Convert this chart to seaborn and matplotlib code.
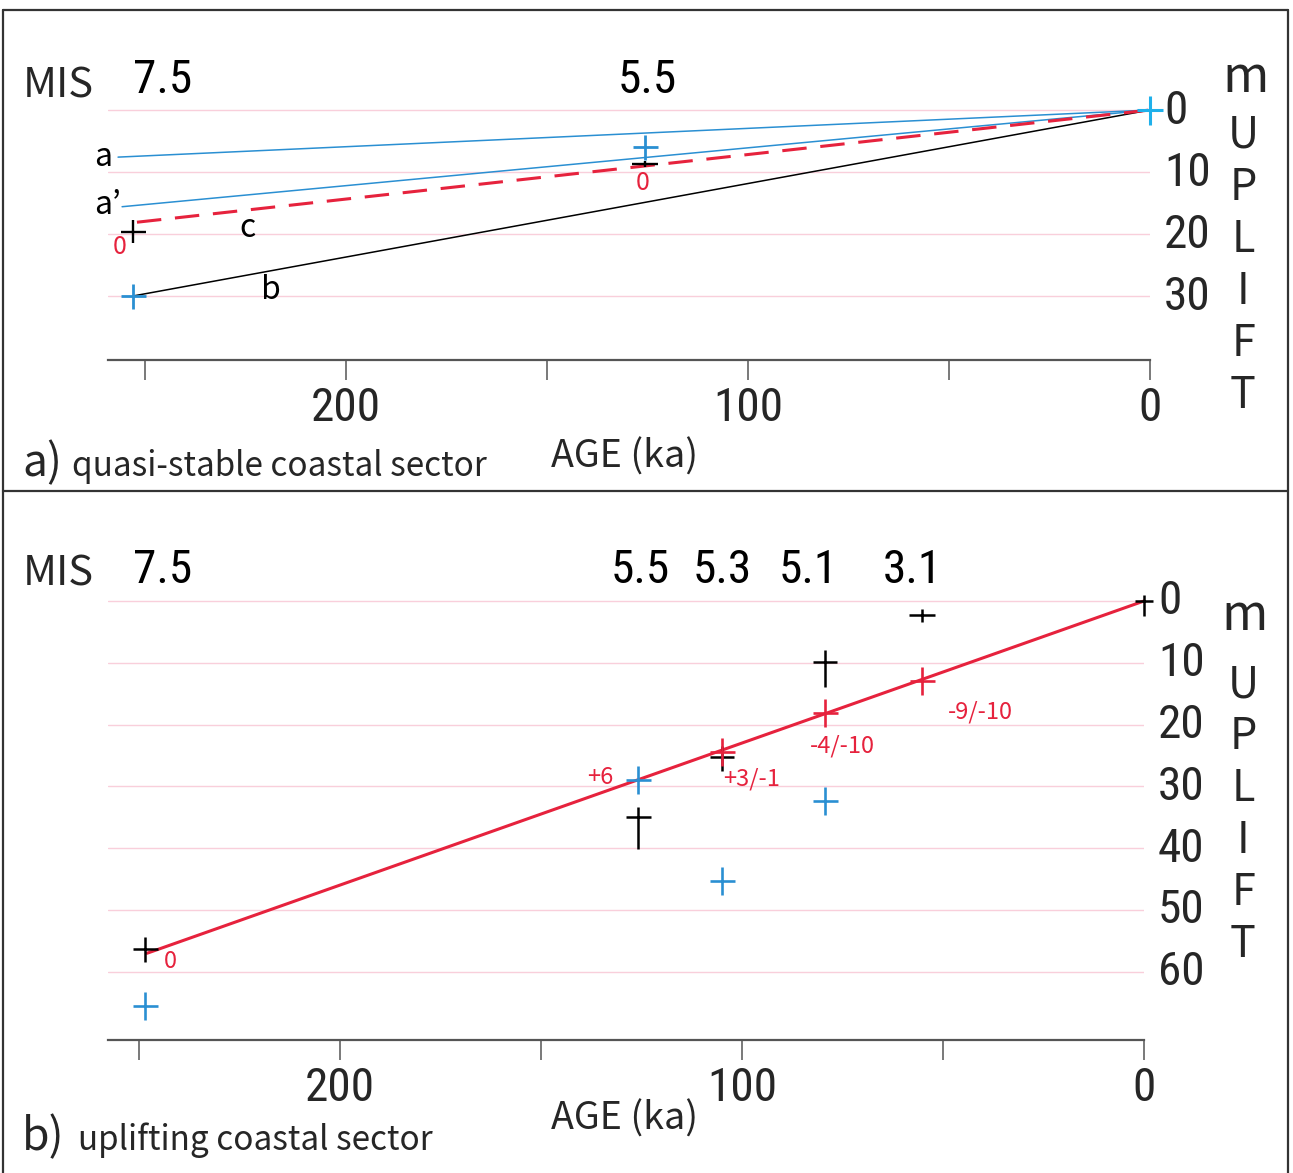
import numpy as np
import pandas as pd
import matplotlib
matplotlib.use("Agg")
import matplotlib.pyplot as plt
from matplotlib.path import Path
from matplotlib.lines import Line2D
from matplotlib.transforms import ScaledTranslation
from matplotlib.textpath import TextToPath
from matplotlib import font_manager as fm
import seaborn as sns

# ---------------- data: panel a (quasi-stable) ----------------
a_age, a_up = [256.7, 0.0], [7.6, 0.0]
ap_age, ap_up = [255.7, 0.0], [15.6, 0.0]
b_age, b_up = [253.0, 0.0], [30.0, 0.0]
c_age, c_up = [252.0, 0.0], [18.1, 0.0]
a_black_age, a_black_up = [253.0, 125.6], [19.7, 8.7]
a_blue_age, a_blue_up = [253.0, 125.6], [30.0, 6.0]
a_cyan_age, a_cyan_up = [0.0], [0.0]
a_mis_labels = ["7.5", "5.5"]
a_mis_age = [245.5, 125.1]
a_line_labels = ["a", "a\u2019", "c", "b"]
a_line_lab_age = [260.4, 259.2, 224.6, 218.7]
a_line_lab_up = [7.6, 15.3, 19.0, 29.0]
a_red_labels = ["0", "0"]
a_red_lab_age = [256.2, 126.1]
a_red_lab_up = [22.1, 11.8]
a_yticks = [0, 10, 20, 30]

# ---------------- data: panel b (uplifting) ----------------
b_fit_age, b_fit_up = [248.0, 0.0], [57.0, 0.0]
b_black_age = [248.5, 125.9, 105.0, 79.4, 55.2, 0.0]
b_black_up = [56.3, 35.0, 25.2, 9.8, 2.3, 0.0]
b_red_age, b_red_up = [105.0, 79.4, 55.2], [24.4, 18.2, 13.0]
b_blue_age, b_blue_up = [248.5, 125.9, 105.0, 79.4], [65.5, 28.9, 45.3, 32.3]
b_mis_labels = ["7.5", "5.5", "5.3", "5.1", "3.1"]
b_mis_age = [244.0, 125.4, 105.0, 83.6, 57.5]
b_red_labels = ["0", "+6", "+3/-1", "-4/-10", "-9/-10"]
b_red_lab_age = [242.3, 135.3, 97.5, 75.1, 40.8]
b_red_lab_up = [58.3, 28.5, 28.8, 23.5, 18.0]
b_yticks = [0, 10, 20, 30, 40, 50, 60]

xticks = [250, 200, 150, 100, 50, 0]
xtick_labels = ["", "200", "", "100", "", "0"]
uplift_letters = list("UPLIFT")

# ---------------- fonts ----------------
sns.set_theme(style="white")
ttf = fm.fontManager.ttflist
names = {f.name for f in ttf}
if "Noto Sans CJK JP" in names:
    SANS = "Noto Sans CJK JP"
elif "Open Sans" in names:
    SANS = "Open Sans"
else:
    SANS = "DejaVu Sans"
plt.rcParams["font.family"] = [SANS, "DejaVu Sans"]


def _is_regular(f):
    w = f.weight
    return (w in (400, "normal", "regular", "book", "Regular")) and f.style == "normal"


cond_file = None
prefs = ["liberationsansnarrow-regular", "notosans-extracondensed.", "notosans-condensed.",
         "robotocondensed-regular", "opensans_condensed-regular", "opensanscondensed",
         "notosans-semicondensed."]
lowmap = {f.fname.lower().replace("\\", "/").split("/")[-1]: f for f in ttf}
for p in prefs:
    for k, f in lowmap.items():
        if k.startswith(p) and _is_regular(f):
            cond_file = f.fname
            break
    if cond_file:
        break
if cond_file is None:
    for f in ttf:
        st = str(f.stretch).lower()
        if ("narrow" in f.name.lower() or "condensed" in f.name.lower() or "condensed" in st) \
                and "dejavu" not in f.name.lower() and _is_regular(f):
            cond_file = f.fname
            break

if cond_file:
    COND_FP = fm.FontProperties(fname=cond_file)
else:
    COND_FP = fm.FontProperties(family=[SANS, "DejaVu Sans"])

_ttp = TextToPath()


def fit_size(text, target_px, fp, max_size=200):
    p = fp.copy()
    p.set_size(100)
    w, h, d = _ttp.get_text_width_height_descent(text, p, ismath=False)
    return min(max_size, 100 * target_px * 0.72 / w)


NUM_FS = fit_size("200", 70, COND_FP, 37)
MIS_FS = NUM_FS
SANS_FP = fm.FontProperties(family=[SANS, "DejaVu Sans"])
BODY_FS = fit_size("quasi-stable coastal sector", 415, SANS_FP, 30)
AGE_FS = fit_size("AGE (ka)", 147, SANS_FP, 34)
MISW_FS = fit_size("MIS", 71, SANS_FP, 36)
RED_FS = fit_size("-9/-10", 65, SANS_FP, 22)
PAN_FS = fit_size("a)", 40, SANS_FP, 38)


def cfp(size):
    p = COND_FP.copy()
    p.set_size(size)
    return p


BLUE = "#2a8fd2"
CYAN = "#1fb0ea"
RED = "#e6223d"
PINK = "#f9cfdb"
AXC = "#555555"
PX = 0.72  # points per pixel at dpi 100

W, H = 1293, 1173
fig = plt.figure(figsize=(W / 100, H / 100), dpi=100)


def fx(px):
    return px / W


def fy(py):
    return 1 - py / H


def cross(hw, up, down):
    verts = [(-hw, 0), (hw, 0), (0, up), (0, -down)]
    codes = [Path.MOVETO, Path.LINETO, Path.MOVETO, Path.LINETO]
    return Path(verts, codes), 2 * max(hw, up, down) * PX


def put_marker(ax, x, y, shape, color, mew=1.9):
    p, ms = cross(*shape)
    ax.plot([x], [y], marker=p, ms=ms, mew=mew, color=color, ls="none",
            clip_on=False, zorder=5)


ax1 = fig.add_axes([fx(108), fy(360), fx(1150) - fx(108), (360 - 40) / H])
ax2 = fig.add_axes([fx(108), fy(1040), fx(1144) - fx(108), (1040 - 520) / H])

# ---------------- panel a ----------------
sns.lineplot(x=a_age, y=a_up, ax=ax1, color=BLUE, lw=1.1, estimator=None, sort=False)
sns.lineplot(x=ap_age, y=ap_up, ax=ax1, color=BLUE, lw=1.1, estimator=None, sort=False)
sns.lineplot(x=b_age, y=b_up, ax=ax1, color="black", lw=1.1, estimator=None, sort=False)
sns.lineplot(x=c_age, y=c_up, ax=ax1, color=RED, lw=2.2, estimator=None, sort=False,
             linestyle=(0, (8, 4.5)))

a_black_shapes = [(12.5, 12, 11), (13, 3, 3)]
for x, y, s in zip(a_black_age, a_black_up, a_black_shapes):
    put_marker(ax1, x, y, s, "black", 1.7)
for x, y in zip(a_blue_age, a_blue_up):
    put_marker(ax1, x, y, (12.5, 12.5, 12.5), BLUE, 2.0)
for x, y in zip(a_cyan_age, a_cyan_up):
    put_marker(ax1, x, y, (13, 14.5, 14.5), CYAN, 2.2)

for t, x, y in zip(a_line_labels, a_line_lab_age, a_line_lab_up):
    ax1.text(x, y, t, ha="center", va="center", fontsize=23, color="black", clip_on=False)
for t, x, y in zip(a_red_labels, a_red_lab_age, a_red_lab_up):
    ax1.text(x, y, t, ha="center", va="center", fontsize=RED_FS + 1, color=RED, clip_on=False)
for t, x in zip(a_mis_labels, a_mis_age):
    ax1.text(x, -4.8, t, ha="center", va="center", color="black", fontproperties=cfp(MIS_FS))

ax1.set_xlim((1150 - 108) / 4.02, 0)
ax1.set_ylim((360 - 110) / 6.2, (40 - 110) / 6.2)

# ---------------- panel b ----------------
sns.lineplot(x=b_fit_age, y=b_fit_up, ax=ax2, color=RED, lw=2.2, estimator=None, sort=False)

b_black_shapes = [(12.5, 12.5, 12.5), (12.5, 10, 32), (12, 11, 14),
                  (12, 12, 25), (13, 6, 7), (9, 6, 15)]
for x, y, s in zip(b_black_age, b_black_up, b_black_shapes):
    put_marker(ax2, x, y, s, "black", 1.8)
for x, y in zip(b_red_age, b_red_up):
    put_marker(ax2, x, y, (12.5, 14, 14), RED, 1.9)
for x, y in zip(b_blue_age, b_blue_up):
    put_marker(ax2, x, y, (12.5, 14, 14), BLUE, 1.9)

for t, x, y in zip(b_red_labels, b_red_lab_age, b_red_lab_up):
    ax2.text(x, y, t, ha="center", va="center", fontsize=RED_FS, color=RED, clip_on=False)
for t, x in zip(b_mis_labels, b_mis_age):
    ax2.text(x, (570 - 601) / 6.18, t, ha="center", va="center", color="black",
             fontproperties=cfp(MIS_FS))

ax2.set_xlim((1144 - 108) / 4.02, 0)
ax2.set_ylim((1040 - 601) / 6.18, (520 - 601) / 6.18)

# ---------------- axes styling ----------------
for ax, yt in ((ax1, a_yticks), (ax2, b_yticks)):
    ax.set_facecolor("none")
    for s in ("top", "left", "right"):
        ax.spines[s].set_visible(False)
    ax.spines["bottom"].set_color(AXC)
    ax.spines["bottom"].set_linewidth(1.6)
    ax.set_xticks(xticks)
    ax.set_xticklabels(xtick_labels, fontproperties=cfp(NUM_FS))
    ax.tick_params(axis="x", length=14.5, width=1.1, color=AXC, pad=4,
                   bottom=True, direction="out")
    ax.yaxis.tick_right()
    ax.set_yticks(yt)
    ax.set_yticklabels([str(v) for v in yt], fontproperties=cfp(NUM_FS))
    ax.tick_params(axis="y", length=0, pad=10, right=True, left=False)
    ax.grid(axis="y", color=PINK, lw=1.0)
    ax.grid(axis="x", visible=False)
    ax.set_axisbelow(True)
    ax.set_xlabel("")
    ax.set_ylabel("")

shift = ScaledTranslation(0, 4 / 100, fig.dpi_scale_trans)
for ax in (ax1, ax2):
    for lbl in ax.get_yticklabels():
        lbl.set_transform(lbl.get_transform() + shift)

# ---------------- figure texts ----------------
fig.text(fx(58), fy(98), "MIS", ha="center", va="baseline", fontsize=MISW_FS)
fig.text(fx(58), fy(585), "MIS", ha="center", va="baseline", fontsize=MISW_FS)
fig.text(fx(625), fy(468), "AGE (ka)", ha="center", va="baseline", fontsize=AGE_FS)
fig.text(fx(625), fy(1130), "AGE (ka)", ha="center", va="baseline", fontsize=AGE_FS)
fig.text(fx(22), fy(476), "a)", ha="left", va="baseline", fontsize=PAN_FS)
fig.text(fx(72), fy(476), "quasi-stable coastal sector", ha="left", va="baseline",
         fontsize=BODY_FS)
fig.text(fx(22), fy(1150), "b)", ha="left", va="baseline", fontsize=PAN_FS)
fig.text(fx(78), fy(1150), "uplifting coastal sector", ha="left", va="baseline",
         fontsize=BODY_FS)

fig.text(fx(1246), fy(92), "m", ha="center", va="baseline", fontsize=36)
fig.text(fx(1245), fy(630), "m", ha="center", va="baseline", fontsize=36)
for i, ch in enumerate(uplift_letters):
    fig.text(fx(1243), fy(148 + 52 * i), ch, ha="center", va="baseline", fontsize=31)
    fig.text(fx(1243), fy(697 + 52 * i), ch, ha="center", va="baseline", fontsize=31)

# ---------------- frame ----------------
for (x0, y0, x1, y1) in [(3, 10, 1288, 10), (3, 10, 3, 1173), (1288, 10, 1288, 1173),
                         (3, 491, 1288, 491)]:
    fig.add_artist(Line2D([fx(x0), fx(x1)], [fy(y0), fy(y1)], transform=fig.transFigure,
                          color="#333333", lw=1.6))

fig.savefig("out.png", dpi=100, facecolor="white")
